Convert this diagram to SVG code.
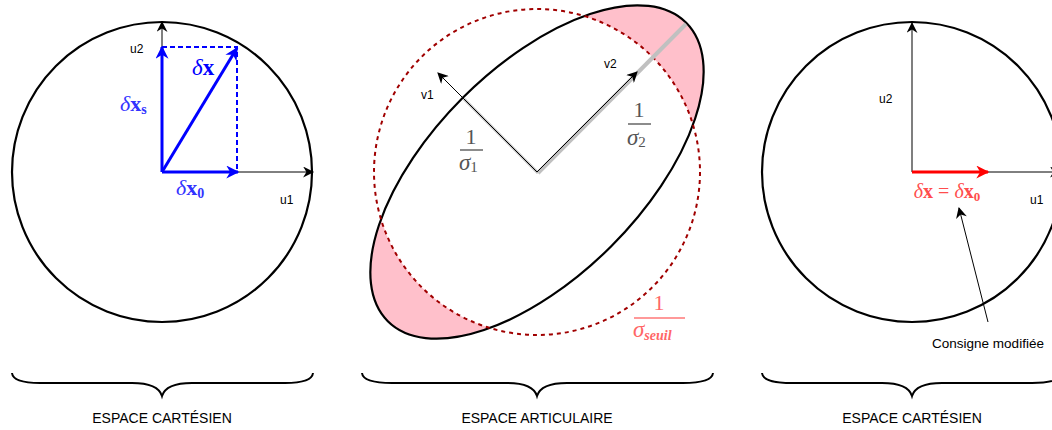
<svg xmlns="http://www.w3.org/2000/svg" width="1052" height="430" viewBox="0 0 1052 430">
<style>
.lbl{font-family:"Liberation Sans",Arial,sans-serif;font-size:12px;fill:#000}
.cap{font-family:"Liberation Sans",Arial,sans-serif;font-size:14px;fill:#000;text-anchor:middle}
.m{font-family:"Liberation Serif","DejaVu Serif",serif}
.it{font-style:italic}
.bf{font-weight:bold}
.ax{stroke:#000;stroke-width:1;fill:none}
.bl{stroke:#0000ff;stroke-width:3;fill:none}
.dash{stroke:#0000ff;stroke-width:2;stroke-dasharray:5 3;fill:none}
.brace{stroke:#000;stroke-width:2;fill:none}
.circ{stroke:#000;stroke-width:2.2;fill:none}
</style>
<defs>
<marker id="ak" viewBox="0 0 10 10" refX="9" refY="5" markerWidth="12" markerHeight="11" markerUnits="userSpaceOnUse" orient="auto"><path d="M0,0 L10,5 L0,10 L3,5 Z" fill="#000"/></marker>
<marker id="ab" viewBox="0 0 10 10" refX="9" refY="5" markerWidth="16" markerHeight="13" markerUnits="userSpaceOnUse" orient="auto"><path d="M0,0 L10,5 L0,10 L3,5 Z" fill="#0000ff"/></marker>
<marker id="ar" viewBox="0 0 10 10" refX="9" refY="5" markerWidth="16" markerHeight="13" markerUnits="userSpaceOnUse" orient="auto"><path d="M0,0 L10,5 L0,10 L3,5 Z" fill="#ff0000"/></marker>
</defs>

<g id="left-panel">
<circle class="circ" cx="162" cy="172" r="150"/>
<line class="ax" x1="162" y1="172" x2="313" y2="172" marker-end="url(#ak)"/>
<line class="ax" x1="162" y1="172" x2="162" y2="22" marker-end="url(#ak)"/>
<text class="lbl" x="130" y="53">u2</text>
<text class="lbl" x="280" y="204">u1</text>
</g>

<g id="left-vectors">
<path class="dash" d="M162,47 H237 V172"/>
<line class="bl" x1="162" y1="172" x2="238" y2="172" marker-end="url(#ab)"/>
<line class="bl" x1="162" y1="172" x2="162" y2="47" marker-end="url(#ab)"/>
<line class="bl" x1="162" y1="172" x2="237" y2="48" marker-end="url(#ab)"/>
<text class="m" x="192" y="75" font-size="23" fill="#0000ff"><tspan class="it">δ</tspan><tspan class="bf">x</tspan></text>
<text class="m" x="120" y="111" font-size="22" fill="#3333ff"><tspan class="it">δ</tspan><tspan class="bf">x</tspan><tspan class="bf" font-size="14" dy="3">s</tspan></text>
<text class="m" x="176" y="195" font-size="22" fill="#3333ff"><tspan class="it">δ</tspan><tspan class="bf">x</tspan><tspan class="bf" font-size="14" dy="3">0</tspan></text>
</g>

<g id="middle-panel">
<ellipse cx="537" cy="172" rx="211" ry="105" transform="rotate(-45 537 172)" fill="#ffc0cb"/>
<circle cx="537" cy="172" r="163" fill="#fff"/>
<ellipse cx="537" cy="172" rx="211" ry="105" transform="rotate(-45 537 172)" fill="none" stroke="#000" stroke-width="2.2"/>
<circle cx="537" cy="172" r="163" fill="none" stroke="#a00000" stroke-width="2" stroke-dasharray="4 4"/>
<line x1="538" y1="173" x2="686" y2="24" stroke="#c0c0c0" stroke-width="4"/>
<line x1="538" y1="173" x2="464" y2="99" stroke="#c0c0c0" stroke-width="3"/>
<line class="ax" x1="537" y1="172" x2="438" y2="73" marker-end="url(#ak)"/>
<line class="ax" x1="537" y1="172" x2="637" y2="72" marker-end="url(#ak)"/>
<text class="lbl" x="421" y="99">v1</text>
<text class="lbl" x="604" y="68">v2</text>
<g fill="#555">
<text class="m" x="471" y="144" font-size="22" text-anchor="middle">1</text>
<line x1="460" y1="150" x2="483" y2="150" stroke="#666" stroke-width="1.5"/>
<text class="m it" x="459" y="170" font-size="23">σ<tspan font-style="normal" font-size="15" dy="2">1</tspan></text>
<text class="m" x="639" y="117" font-size="22" text-anchor="middle">1</text>
<line x1="628" y1="124" x2="651" y2="124" stroke="#666" stroke-width="1.5"/>
<text class="m it" x="627" y="145" font-size="23">σ<tspan font-style="normal" font-size="15" dy="2">2</tspan></text>
</g>
<g fill="#ff6666">
<text class="m" x="659" y="310" font-size="22" text-anchor="middle">1</text>
<line x1="634" y1="318" x2="685" y2="318" stroke="#ff7777" stroke-width="1.5"/>
<text class="m it" x="633" y="337" font-size="23">σ<tspan font-size="14" font-weight="bold" dy="3">seuil</tspan></text>
</g>
</g>

<g id="right-panel">
<circle class="circ" cx="912" cy="172" r="150"/>
<line x1="912" y1="172" x2="912" y2="23" stroke="#555" stroke-width="1.5" marker-end="url(#ak)"/>
<line class="ax" x1="912" y1="172" x2="1060" y2="172" marker-end="url(#ak)"/>
<line x1="912" y1="172" x2="988" y2="172" stroke="#ff0000" stroke-width="3" marker-end="url(#ar)"/>
<text class="lbl" x="879" y="103">u2</text>
<text class="lbl" x="1030" y="204">u1</text>
<text class="m" x="947" y="198" font-size="20" fill="#ff4d4d" text-anchor="middle"><tspan class="it">δ</tspan><tspan class="bf">x</tspan> = <tspan class="it">δ</tspan><tspan class="bf">x</tspan><tspan class="bf" font-size="13" dy="3">0</tspan></text>
</g>

<g id="connectors">
<line class="ax" x1="988" y1="322" x2="959" y2="208" marker-end="url(#ak)"/>
</g>
<text class="cap" x="988" y="348" style="font-size:13.5px">Consigne modifiée</text>

<g id="braces">
<path class="brace" d="M12,373 Q13,383 40,383 L132,383 Q158,383 162,396 Q166,383 192,383 L285,383 Q312,383 313,373"/>
<path class="brace" d="M362,373 Q363,383 392,383 L507,383 Q533,383 537,396 Q541,383 567,383 L683,383 Q712,383 713,373"/>
<path class="brace" d="M762,373 Q763,383 792,383 L882,383 Q908,383 912,396 Q916,383 942,383 L1032,383 Q1061,383 1062,373"/>
<text class="cap" x="162" y="423">ESPACE CARTÉSIEN</text>
<text class="cap" x="537" y="423">ESPACE ARTICULAIRE</text>
<text class="cap" x="912" y="423">ESPACE CARTÉSIEN</text>
</g>
</svg>
